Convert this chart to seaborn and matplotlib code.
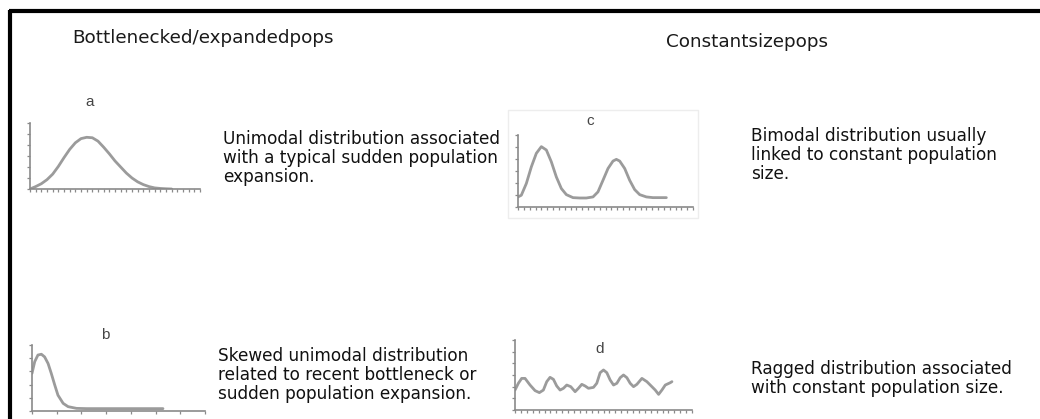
import matplotlib
matplotlib.use("Agg")
import matplotlib.pyplot as plt
import matplotlib.patches as mpatches
import seaborn as sns
import pandas as pd

# --- mismatch-distribution shapes (x in tick units, y in tick units) ---
a_x = list(range(0, 26))
a_y = [0.0, 0.22, 0.48, 0.85, 1.35, 2.05, 2.85, 3.6, 4.2, 4.58, 4.7, 4.66, 4.35,
       3.8, 3.2, 2.55, 2.0, 1.45, 1.0, 0.65, 0.4, 0.22, 0.1, 0.05, 0.02, 0.0]

b_x = [0.0, 0.11, 0.24, 0.38, 0.51, 0.65, 0.78, 0.92, 1.05, 1.26, 1.46, 1.8, 2.2, 5.3]
b_y = [2.85, 3.74, 4.24, 4.3, 4.1, 3.6, 2.85, 1.97, 1.2, 0.58, 0.33, 0.2, 0.18, 0.18]

c_x = [0.0, 0.57, 1.43, 2.29, 3.14, 4.0, 4.86, 5.71, 6.57, 7.43, 8.29, 9.43, 10.57,
       11.71, 12.86, 13.71, 14.57, 15.43, 16.29, 16.86, 17.43, 18.29, 19.14, 20.0,
       20.86, 22.0, 23.14, 25.43]
c_y = [0.84, 0.98, 1.96, 3.35, 4.47, 5.03, 4.75, 3.77, 2.51, 1.54, 1.03, 0.78, 0.75,
       0.75, 0.84, 1.26, 2.23, 3.21, 3.83, 3.97, 3.83, 3.21, 2.23, 1.45, 1.03, 0.84,
       0.78, 0.78]

d_x = [0.0, 0.57, 1.13, 1.70, 2.55, 3.40, 4.13, 4.81, 5.38, 5.94, 6.51, 7.07, 7.64,
       8.21, 8.77, 9.45, 10.19, 10.75, 11.32, 11.88, 12.45, 13.30, 13.86, 14.43, 15.0,
       15.56, 16.13, 16.70, 17.26, 17.83, 18.39, 18.96, 19.52, 20.09, 20.66, 21.51,
       22.35, 23.20, 23.77, 24.34, 24.90, 25.47, 26.32, 26.6]
d_y = [1.71, 2.29, 2.71, 2.71, 2.14, 1.66, 1.49, 1.71, 2.43, 2.80, 2.63, 2.06, 1.71,
       1.86, 2.14, 2.0, 1.57, 1.86, 2.2, 2.06, 1.86, 1.94, 2.29, 3.2, 3.43, 3.2, 2.57,
       2.14, 2.29, 2.77, 3.0, 2.77, 2.29, 2.0, 2.2, 2.71, 2.43, 2.0, 1.71, 1.34, 1.71,
       2.14, 2.34, 2.43]

panel_letters = ["a", "b", "c", "d"]
group_titles = ["Bottlenecked/expandedpops", "Constantsizepops"]
captions = [
    "Unimodal distribution associated\nwith a typical sudden population\nexpansion.",
    "Skewed unimodal distribution\nrelated to recent bottleneck or\nsudden population expansion.",
    "Bimodal distribution usually\nlinked to constant population\nsize.",
    "Ragged distribution associated\nwith constant population size.",
]

sns.set_style("white")
plt.rcParams["font.family"] = ["DejaVu Sans"]

W, H = 1040, 419
fig = plt.figure(figsize=(W / 100, H / 100), dpi=100)


def px_axes(x0, y0, x1, y1):
    """Axes placed by pixel box (left, top, right, bottom) measured from the top-left."""
    return fig.add_axes([x0 / W, 1 - y1 / H, (x1 - x0) / W, (y1 - y0) / H])


def fig_xy(x, y):
    return x / W, 1 - y / H


# outer frame: top and left rules
frame = fig.add_axes([0, 0, 1, 1])
frame.set_xlim(0, W)
frame.set_ylim(H, 0)
frame.axis("off")
frame.plot([9, W], [11, 11], color="black", lw=3, solid_capstyle="butt")
frame.plot([9.5, 9.5], [10, H], color="black", lw=3, solid_capstyle="butt")
# faint backdrop behind panel c
frame.add_patch(mpatches.Rectangle((508, 110), 190, 108, fill=False,
                                   ec="#ededed", lw=1))

panels = [
    # box (l, t, r, b), data, x intervals, y intervals
    ((30, 123, 200, 189), (a_x, a_y), 30, 6),
    ((32, 345, 205, 411), (b_x, b_y), 7, 5),
    ((518, 135, 693, 207), (c_x, c_y), 30, 6),
    ((515, 340, 692, 410), (d_x, d_y), 30, 6),
]

line_col = "#9b9b9b"
axis_col = "#8a8a8a"
for (box, (xs, ys), nx, ny) in panels:
    ax = px_axes(*box)
    df = pd.DataFrame({"x": xs, "y": ys})
    sns.lineplot(data=df, x="x", y="y", ax=ax, color=line_col, lw=2.0,
                 sort=False, estimator=None)
    ax.set_xlim(0, nx)
    ax.set_ylim(0, ny)
    ax.set_xticks(range(nx + 1))
    ax.set_yticks(range(ny + 1))
    ax.set_xticklabels([])
    ax.set_yticklabels([])
    ax.set_xlabel("")
    ax.set_ylabel("")
    for s in ("top", "right"):
        ax.spines[s].set_visible(False)
    for s in ("left", "bottom"):
        ax.spines[s].set_color(axis_col)
        ax.spines[s].set_linewidth(1.2)
    ax.tick_params(axis="both", direction="out", length=2.5, width=0.9,
                   color=axis_col, bottom=True, left=True)
    ax.patch.set_alpha(0)

# panel letters
letter_pos = [(90, 102), (105, 335), (590, 121), (600, 349)]
for letter, (x, y) in zip(panel_letters, letter_pos):
    fig.text(*fig_xy(x, y), letter, ha="center", va="center", fontsize=11,
             color="#454545", family=["Liberation Sans", "DejaVu Sans"])

# group headings
fig.text(*fig_xy(72, 38), group_titles[0], ha="left", va="center",
         fontsize=13.2, color="#1a1a1a")
fig.text(*fig_xy(666, 42), group_titles[1], ha="left", va="center",
         fontsize=13.2, color="#1a1a1a")

# captions
caption_pos = [(223, 130), (218, 347), (751, 127), (751, 360)]
for cap, (x, y) in zip(captions, caption_pos):
    fig.text(*fig_xy(x, y), cap, ha="left", va="top", fontsize=12.2,
             color="#111111", linespacing=1.06)

fig.savefig("out.png", dpi=100)
